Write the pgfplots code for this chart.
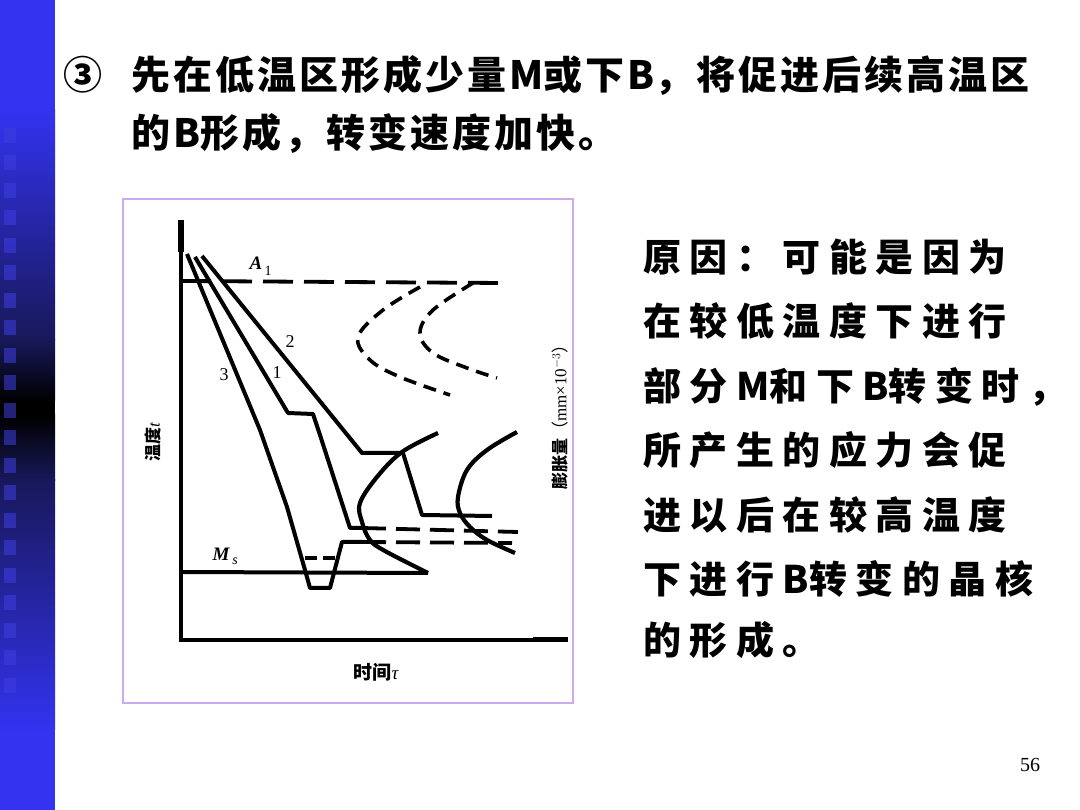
\documentclass[border=0pt]{standalone}
\usepackage{fontspec}
\usepackage{pgfplots}
\pgfplotsset{compat=1.18}
\setmainfont{Liberation Serif}
\newfontfamily\cjk{Noto Sans CJK SC}
\definecolor{barblue}{RGB}{51,51,240}
\definecolor{barnavy}{RGB}{24,24,90}
\definecolor{sqblue}{RGB}{62,62,225}
\definecolor{boxpurple}{RGB}{204,170,235}
\newlength\cjkgap
\makeatletter
\def\spaced#1{\sp@ced#1\@nil}
\def\sp@ced#1{\ifx#1\@nil\else#1\ifnum`#1>255 \kern\cjkgap\fi\expandafter\sp@ced\fi}
\makeatother
\begin{document}
\begin{tikzpicture}
\path[use as bounding box, fill=white] (0pt,0pt) rectangle (1080pt,810pt);
% left bar
\fill[barblue] (0pt,0pt) rectangle (55pt,810pt);
\shade[top color=barblue, bottom color=barnavy] (0pt,700pt) rectangle (55pt,470pt);
\shade[top color=barnavy, bottom color=black] (0pt,470.5pt) rectangle (55pt,409.5pt);
\fill[black] (0pt,410pt) rectangle (55pt,395pt);
\shade[top color=black, bottom color=barnavy] (0pt,395.5pt) rectangle (55pt,329.5pt);
\shade[top color=barnavy, bottom color=barblue] (0pt,330pt) rectangle (55pt,80pt);
\foreach \i in {0,...,20} {
  \pgfmathsetmacro\ya{810-128-27.5*\i}
  \pgfmathsetmacro\yb{810-143-27.5*\i}
  \fill[sqblue, opacity=0.55] (4pt,\ya pt) rectangle (16pt,\yb pt);
}
% title
\node[anchor=base west, inner sep=0pt, font=\cjk\bfseries\fontsize{39}{39}\selectfont] at (63pt,720pt) {③};
\node[anchor=base west, inner sep=0pt, font=\cjk\bfseries\fontsize{39}{39}\selectfont] at (131pt,720pt) {\setlength\cjkgap{3pt}\spaced{先在低温区形成少量M或下B，将促进后续高温区}};
\node[anchor=base west, inner sep=0pt, font=\cjk\bfseries\fontsize{39}{39}\selectfont] at (131pt,662pt) {\setlength\cjkgap{3pt}\spaced{的B形成，转变速度加快。}};
% right text
\foreach \t/\y in {原因：可能是因为/538.5, 在较低温度下进行/474.5, 部分M和下B转变时，/409.5, 所产生的应力会促/345.5, 进以后在较高温度/280.5, 下进行B转变的晶核/216.5, 的形成。/155.5} {
  \node[anchor=base west, inner sep=0pt, font=\cjk\bfseries\fontsize{38}{38}\selectfont] at (643pt,\y pt) {\setlength\cjkgap{8.5pt}\expandafter\spaced\expandafter{\t}};
}
% page number
\node[anchor=base, inner sep=0pt, font=\fontsize{20}{20}\selectfont] at (1030pt,38pt) {56};
% chart frame
\draw[boxpurple, line width=2pt] (123pt,611pt) rectangle (573pt,107pt);
\begin{axis}[
  at={(120pt,105pt)}, anchor=south west,
  width=455pt, height=508pt, scale only axis,
  xmin=120, xmax=575, ymin=197, ymax=705, y dir=reverse,
  axis lines=none, clip=false,
]
% axes
\addplot[black, line width=3.2pt] coordinates {(181,220) (181,640) (568,640)};
\addplot[black, line width=5.5pt] coordinates {(181,220) (181,252)};
\addplot[black, line width=5pt] coordinates {(533,640) (568,640)};
% A1 and Ms
\addplot[black, line width=3.8pt, dash pattern=on 30pt off 11pt] coordinates {(181,281) (503,283)};
\addplot[black, line width=4pt] coordinates {(181,572) (428,573)};
% curve 3
\addplot[black, line width=4pt, line join=round] coordinates {(187,254) (260,430) (287,507) (305,570) (310,588) (330,588) (342,542) (362,542)};
\addplot[black, line width=3.8pt, dash pattern=on 24pt off 10pt] coordinates {(362,542) (512,543)};
\addplot[black, line width=3.2pt, dash pattern=on 12pt off 6pt] coordinates {(305,558) (336,558)};
% curve 1
\addplot[black, line width=4pt, line join=round] coordinates {(195,257) (288,413) (313,414) (320,435) (350,528) (362,528)};
\addplot[black, line width=3.8pt, dash pattern=on 24pt off 10pt] coordinates {(362,528) (518,532)};
% curve 2
\addplot[black, line width=4pt, line join=round] coordinates {(202,256) (362,453) (403,453) (422,515) (492,516)};
% solid C curves
\addplot[black, line width=4.2pt, smooth, tension=0.6] coordinates {(438,433) (402,452) (377,477) (360,503) (362,522) (370,540) (385,551) (428,573)};
\addplot[black, line width=4.2pt, smooth, tension=0.6] coordinates {(517,432) (487,450) (467,470) (458,497) (460,513) (470,527) (487,540) (515,553)};
% dashed C curves
\addplot[black, line width=3.6pt, smooth, tension=0.6, dash pattern=on 13pt off 8pt] coordinates {(420,287) (383,310) (358,337) (370,360) (400,377) (450,395)};
\addplot[black, line width=3.6pt, smooth, tension=0.6, dash pattern=on 13pt off 8pt] coordinates {(473,283) (433,310) (420,333) (433,353) (467,368) (497,378)};
% labels
\node[font=\bfseries\itshape\fontsize{19}{19}\selectfont] at (axis cs:256,263) {A};
\node[font=\fontsize{14}{14}\selectfont] at (axis cs:268,271) {1};
\node[font=\bfseries\itshape\fontsize{19}{19}\selectfont] at (axis cs:221,554) {M};
\node[font=\itshape\fontsize{14}{14}\selectfont] at (axis cs:235,561) {s};
\node[font=\fontsize{18}{18}\selectfont] at (axis cs:290,342) {2};
\node[font=\fontsize{18}{18}\selectfont] at (axis cs:277,373) {1};
\node[font=\fontsize{18}{18}\selectfont] at (axis cs:224,375) {3};
\node[rotate=90, font=\cjk\bfseries\fontsize{17}{17}\selectfont] at (axis cs:153,442) {温度{\rmfamily\mdseries\itshape t}};
\node[font=\cjk\bfseries\fontsize{19}{19}\selectfont] at (axis cs:376,672) {时间{\rmfamily\mdseries\itshape τ}};
\node[rotate=90, font=\cjk\bfseries\fontsize{17}{17}\selectfont] at (axis cs:560,413) {膨胀量{\mdseries（}{\rmfamily\mdseries mm×10$^{-3}$}{\mdseries）}};
\end{axis}
\end{tikzpicture}
\end{document}
